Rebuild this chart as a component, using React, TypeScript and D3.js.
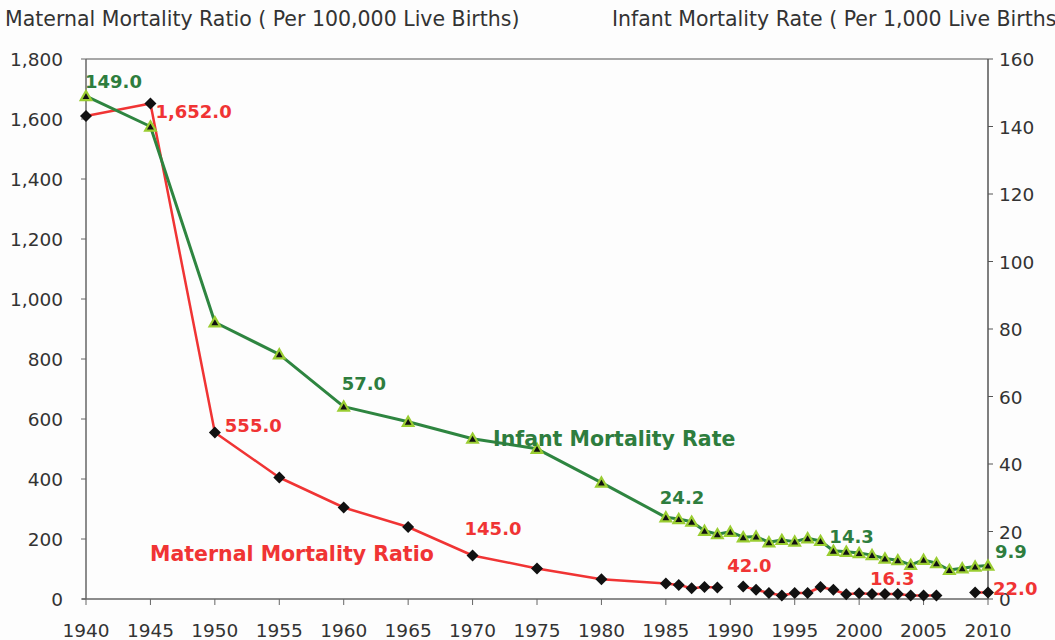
import React from 'react'
import * as d3 from 'd3'

// years shown on the chart (5-year steps first, then yearly)
const years = [1940, 1945, 1950, 1955, 1960, 1965, 1970, 1975, 1980,
  1985, 1986, 1987, 1988, 1989, 1990, 1991, 1992, 1993, 1994, 1995, 1996, 1997,
  1998, 1999, 2000, 2001, 2002, 2003, 2004, 2005, 2006, 2007, 2008, 2009, 2010]

// per 100,000 live births (null = no data)
const maternal: (number | null)[] = [1610, 1652, 555, 405, 305, 240, 145, 102, 66,
  52, 47, 36, 40, 38, null, 42, 31, 20, 12, 20, 20, 40,
  31, 16, 19, 16.3, 17, 17, 12, 12, 12, null, null, 22, 22]

// per 1,000 live births
const infant: number[] = [149, 140, 82, 72.5, 57, 52.5, 47.5, 44.5, 34.5,
  24.2, 23.7, 22.9, 20.2, 19.2, 19.9, 18.3, 18.5, 16.8, 17.5, 17.0, 18.0, 17.2,
  14.3, 14.0, 13.6, 13.0, 12.0, 11.5, 10.1, 11.6, 10.6, 8.6, 9.1, 9.6, 9.9]

const xTicks = d3.range(1940, 2011, 5)
const leftTicks = d3.range(0, 1801, 200)
const rightTicks = d3.range(0, 161, 20)

// value labels: which series/year, nudged off the marker
const maternalLabels = [
  { year: 1945, dx: 5, dy: 15 },
  { year: 1950, dx: 10, dy: -1 },
  { year: 1970, dx: -8, dy: -21 },
  { year: 1991, dx: -16, dy: -14 },
  { year: 2001, dx: -2, dy: -9 },
  { year: 2010, dx: 5, dy: 3 },
]
const infantLabels = [
  { year: 1940, dx: -1, dy: -8 },
  { year: 1960, dx: -2, dy: -17 },
  { year: 1985, dx: -6, dy: -13 },
  { year: 1998, dx: -4, dy: -8 },
  { year: 2010, dx: 7, dy: -8 },
]

const W = 1055
const H = 640
const plot = { left: 86, right: 988, top: 59, bottom: 599 }
const font = '"DejaVu Sans", Verdana, sans-serif'
const red = '#f03434'
const green = '#2e8540'
const greenText = '#2e7d3e'

const fmt = d3.format(',.1f')

export default function App() {
  const x = d3.scaleLinear().domain([1940, 2010]).range([plot.left, plot.right])
  const yL = d3.scaleLinear().domain([0, 1800]).range([plot.bottom, plot.top])
  const yR = d3.scaleLinear().domain([0, 160]).range([plot.bottom, plot.top])

  const mPts = years.map((yr, i) => ({ yr, v: maternal[i] }))
  const iPts = years.map((yr, i) => ({ yr, v: infant[i] }))

  // gaps where a year has no value
  const mLine = d3.line<{ yr: number; v: number | null }>()
    .defined(d => d.v !== null)
    .x(d => x(d.yr))
    .y(d => yL(d.v as number))

  const iLine = d3.line<{ yr: number; v: number }>()
    .x(d => x(d.yr))
    .y(d => yR(d.v))

  const tri = d3.symbol().type(d3.symbolTriangle).size(48)()
  const diamond = 'M0,-6L6,0L0,6L-6,0Z'

  const axisText = { fontFamily: font, fontSize: 18.5, fill: '#333' }
  const titleText = { fontFamily: font, fontSize: 20.5, fill: '#333' }
  const labelText = { fontFamily: font, fontSize: 18, fontWeight: 'bold' as const }

  return (
    <div style={{ position: 'absolute', left: 0, top: 0 }}>
      <svg width={W} height={H} style={{ display: 'block', background: '#fdfdfd' }}>
        {/* axis titles */}
        <text x={5} y={26} style={titleText}>Maternal Mortality Ratio ( Per 100,000 Live Births)</text>
        <text x={612} y={26} style={titleText}>Infant Mortality Rate ( Per 1,000 Live Births)</text>

        {/* frame */}
        <line x1={plot.left} x2={plot.right} y1={plot.top} y2={plot.top} stroke="#8a8a8a" strokeWidth={1.5} />
        <line x1={plot.left} x2={plot.left} y1={plot.top} y2={plot.bottom} stroke="#666" strokeWidth={1.5} />
        <line x1={plot.right} x2={plot.right} y1={plot.top} y2={plot.bottom} stroke="#555" strokeWidth={1.5} />
        <line x1={plot.left - 4} x2={plot.right} y1={plot.bottom} y2={plot.bottom} stroke="#666" strokeWidth={1.5} />

        {/* left axis */}
        {leftTicks.map(t => (
          <g key={'l' + t}>
            <line x1={plot.left - 5} x2={plot.left} y1={yL(t)} y2={yL(t)} stroke="#666" />
            <text x={63} y={yL(t) + 7} textAnchor="end" style={axisText}>{d3.format(',')(t)}</text>
          </g>
        ))}

        {/* right axis */}
        {rightTicks.map(t => (
          <g key={'r' + t}>
            <line x1={plot.right} x2={plot.right + 5} y1={yR(t)} y2={yR(t)} stroke="#555" />
            <text x={999} y={yR(t) + 7} style={axisText}>{t}</text>
          </g>
        ))}

        {/* x axis */}
        {xTicks.map(t => (
          <g key={'x' + t}>
            <line x1={x(t)} x2={x(t)} y1={plot.bottom} y2={plot.bottom + 6} stroke="#666" />
            <text x={x(t)} y={637} textAnchor="middle" style={axisText}>{t}</text>
          </g>
        ))}

        {/* maternal mortality */}
        <path d={mLine(mPts) || ''} fill="none" stroke={red} strokeWidth={2.5} strokeLinejoin="round" />
        {mPts.filter(d => d.v !== null).map(d => (
          <path key={'m' + d.yr} d={diamond} transform={`translate(${x(d.yr)},${yL(d.v as number)})`} fill="#111" />
        ))}

        {/* infant mortality */}
        <path d={iLine(iPts) || ''} fill="none" stroke={green} strokeWidth={3} strokeLinejoin="round" />
        {iPts.map(d => (
          <path key={'i' + d.yr} d={tri || ''} transform={`translate(${x(d.yr)},${yR(d.v) + 1})`}
            fill="#111" stroke="#9acd32" strokeWidth={2.2} />
        ))}

        {/* value labels */}
        {maternalLabels.map(l => {
          const v = maternal[years.indexOf(l.year)] as number
          return (
            <text key={'ml' + l.year} x={x(l.year) + l.dx} y={yL(v) + l.dy} fill={red} style={labelText}>{fmt(v)}</text>
          )
        })}
        {infantLabels.map(l => {
          const v = infant[years.indexOf(l.year)]
          return (
            <text key={'il' + l.year} x={x(l.year) + l.dx} y={yR(v) + l.dy} fill={greenText} style={labelText}>{fmt(v)}</text>
          )
        })}

        {/* series names */}
        <text x={493} y={446} fill={greenText} style={{ ...labelText, fontSize: 20.5 }}>Infant Mortality Rate</text>
        <text x={150} y={561} fill={red} style={{ ...labelText, fontSize: 20.5 }}>Maternal Mortality Ratio</text>
      </svg>
    </div>
  )
}
